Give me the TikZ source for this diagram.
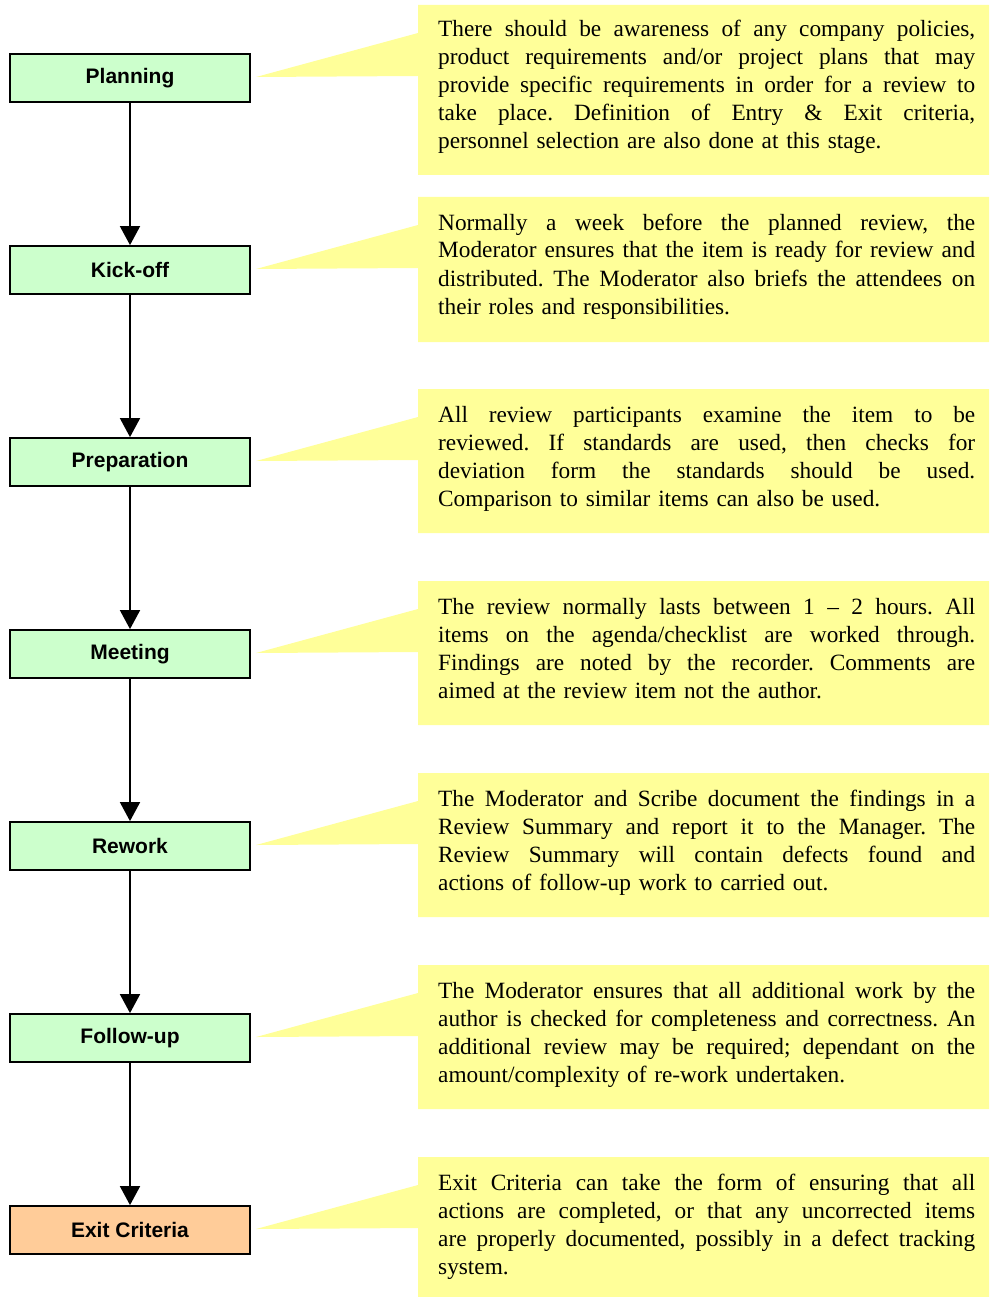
\documentclass[tikz,border=0pt]{standalone}
\usepackage{fontspec}
\setmainfont{Liberation Serif}
\newfontfamily\labelfont{Liberation Sans}
\usetikzlibrary{arrows.meta}
\definecolor{stagegreen}{HTML}{CCFFCC}
\definecolor{stageorange}{HTML}{FFCC99}
\definecolor{noteyellow}{HTML}{FFFF99}
% one justified line of a note, stretched to the full text width
\newcommand\jl[1]{\makebox[537pt][s]{\spaceskip=0pt\xspaceskip=0pt #1}\\}
% yellow note background with its pointer: #1 = top, #2 = bottom
\newcommand\notebg[2]{%
  \fill[noteyellow] (418,#1) -- (989,#1) -- (989,#2) -- (418,#2)
    -- (418,#1+71) -- (256,#1+72) -- (418,#1+28) -- cycle;}
\frenchspacing
\begin{document}
\begin{tikzpicture}[x=1pt,y=-1pt,
  stage/.style={draw=black, line width=1.8pt, fill=stagegreen,
    minimum width=240pt, minimum height=48pt, inner sep=0pt,
    font=\labelfont\bfseries\fontsize{21}{24}\selectfont},
  flow/.style={line width=1.8pt, -{Triangle[length=19pt,width=20pt]}},
  notetext/.style={anchor=base west, inner sep=0pt, text width=537pt,
    align=left, font=\fontsize{23.3}{28}\selectfont}]
\useasboundingbox (0,0) rectangle (989,1297);

% note backgrounds
\notebg{5}{175}
\notebg{197}{342}
\notebg{389}{533}
\notebg{581}{725}
\notebg{773}{917}
\notebg{965}{1109}
\notebg{1157}{1297}

% process stages
\node[stage] (plan) at (130,78)   {Planning};
\node[stage] (kick) at (130,270)  {Kick-off};
\node[stage] (prep) at (130,462)  {Preparation};
\node[stage] (meet) at (130,654)  {Meeting};
\node[stage] (rework) at (130,846) {Rework};
\node[stage] (follow) at (130,1038) {Follow-up};
\node[stage, fill=stageorange] (exit) at (130,1230) {Exit Criteria};

\draw[flow] (plan) -- (kick);
\draw[flow] (kick) -- (prep);
\draw[flow] (prep) -- (meet);
\draw[flow] (meet) -- (rework);
\draw[flow] (rework) -- (follow);
\draw[flow] (follow) -- (exit);

% note texts
\node[notetext] (planNote) at (438,37) {%
\jl{There should be awareness of any company policies,}
\jl{product requirements and/or project plans that may}
\jl{provide specific requirements in order for a review to}
\jl{take place. Definition of Entry \& Exit criteria,}
personnel selection are also done at this stage.};

\node[notetext] (kickNote) at (438,230) {%
\jl{Normally a week before the planned review, the}
\jl{Moderator ensures that the item is ready for review and}
\jl{distributed. The Moderator also briefs the attendees on}
their roles and responsibilities.};

\node[notetext] (prepNote) at (438,422) {%
\jl{All review participants examine the item to be}
\jl{reviewed. If standards are used, then checks for}
\jl{deviation form the standards should be used.}
Comparison to similar items can also be used.};

\node[notetext] (meetNote) at (438,614) {%
\jl{The review normally lasts between 1 – 2 hours. All}
\jl{items on the agenda/checklist are worked through.}
\jl{Findings are noted by the recorder. Comments are}
aimed at the review item not the author.};

\node[notetext] (reworkNote) at (438,806) {%
\jl{The Moderator and Scribe document the findings in a}
\jl{Review Summary and report it to the Manager. The}
\jl{Review Summary will contain defects found and}
actions of follow-up work to carried out.};

\node[notetext] (followNote) at (438,998) {%
\jl{The Moderator ensures that all additional work by the}
\jl{author is checked for completeness and correctness. An}
\jl{additional review may be required; dependant on the}
amount/complexity of re-work undertaken.};

\node[notetext] (exitNote) at (438,1190) {%
\jl{Exit Criteria can take the form of ensuring that all}
\jl{actions are completed, or that any uncorrected items}
\jl{are properly documented, possibly in a defect tracking}
system.};
\end{tikzpicture}
\end{document}
